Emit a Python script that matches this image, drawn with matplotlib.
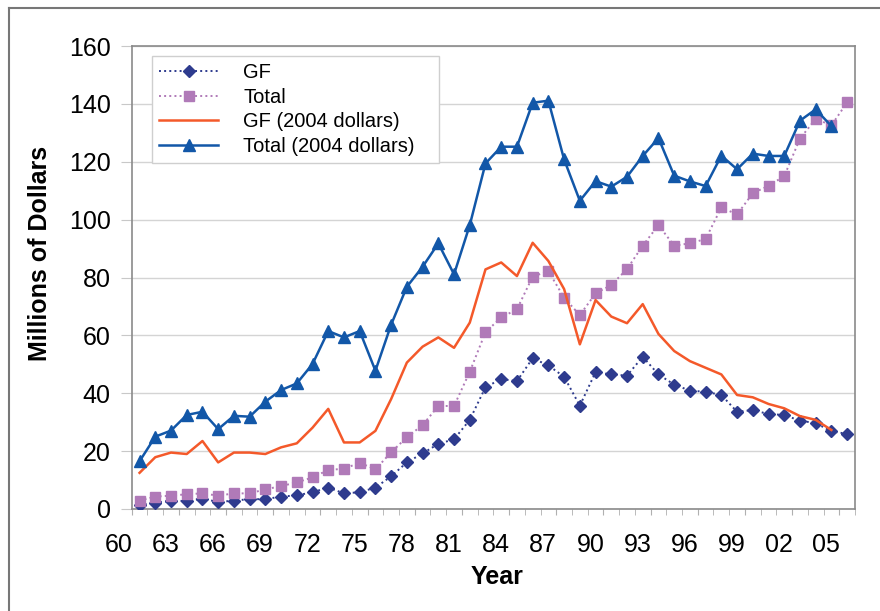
import matplotlib
matplotlib.use('Agg')
import matplotlib.pyplot as plt
from matplotlib.lines import Line2D
from matplotlib.ticker import FixedLocator
from matplotlib.transforms import ScaledTranslation

plt.rcParams['font.family'] = ['Liberation Sans', 'DejaVu Sans']

# data, years as 61 .. 106 (1961 .. 2006)
years = list(range(61, 107))
gf = [1.4, 2.2, 2.8, 2.8, 3.6, 2.4, 2.9, 3.4, 3.4, 4.3,
      4.7, 5.8, 7.4, 5.4, 5.8, 7.4, 11.3, 16.1, 19.2, 22.5,
      24.1, 30.8, 42.1, 44.9, 44.2, 52.1, 49.6, 45.7, 35.7, 47.3,
      46.5, 46.1, 52.6, 46.5, 43.0, 40.9, 40.5, 39.4, 33.6, 34.2,
      32.8, 32.5, 30.5, 29.7, 26.8, 26.0]
total = [2.9, 4.3, 4.6, 5.1, 5.4, 4.6, 5.4, 5.4, 6.8, 7.9,
         9.2, 10.9, 13.5, 13.9, 16.0, 13.7, 19.6, 24.8, 29.0, 35.6,
         35.6, 47.4, 61.1, 66.2, 69.0, 80.3, 82.2, 73.0, 67.0, 74.5,
         77.4, 82.9, 91.0, 98.1, 91.0, 91.8, 93.3, 104.2, 101.8, 109.1,
         111.7, 115.0, 128.0, 134.8, 132.6, 140.5]
gf_2004 = [12.5, 17.9, 19.5, 19.0, 23.5, 16.1, 19.5, 19.5, 19.0, 21.3,
           22.7, 28.1, 34.6, 23.0, 23.0, 27.0, 38.0, 50.6, 56.1, 59.3,
           55.7, 64.4, 82.8, 85.2, 80.5, 92.0, 85.7, 76.0, 56.9, 72.2,
           66.5, 64.2, 70.8, 60.5, 54.6, 51.1, 48.8, 46.5, 39.4, 38.6,
           36.3, 34.8, 32.1, 30.8, 27.3]
total_2004 = [16.5, 25.0, 27.1, 32.5, 33.6, 27.6, 32.2, 31.9, 37.1, 41.1,
              43.4, 50.1, 61.5, 59.3, 61.5, 47.8, 63.7, 76.8, 83.7, 91.8,
              81.1, 98.1, 119.4, 125.2, 125.2, 140.4, 141.1, 120.8, 106.5, 113.3,
              111.4, 114.8, 122.0, 128.2, 115.2, 113.2, 111.6, 122.1, 117.4, 122.8,
              122.0, 122.0, 134.2, 138.1, 132.3]
label_years = list(range(60, 106, 3))
labels = ['%02d' % (y % 100) for y in label_years]

W, H = 880, 611
fig = plt.figure(figsize=(W / 100, H / 100), dpi=100)
ax = fig.add_axes([131.7 / W, 1 - 509 / H, (855 - 131.7) / W, (509 - 46) / H])

ax.plot(years, gf, linestyle=':', color='#2E3B8E', lw=1.4, marker='D', markersize=6.5,
        label='GF', zorder=3)
ax.plot(years, total, linestyle=':', color='#B07AB8', lw=1.4, marker='s', markersize=6.5,
        label='Total', zorder=3)
ax.plot(years[:len(gf_2004)], gf_2004, linestyle='-', color='#F4592A', lw=1.8,
        label='GF (2004 dollars)', zorder=4)
ax.plot(years[:len(total_2004)], total_2004, linestyle='-', color='#1257A8', lw=1.8,
        marker='^', markersize=8, label='Total (2004 dollars)', zorder=5)

# ticks on the category edge, labels shifted left like the original
ax.set_xticks([y + 0.5 for y in label_years])
ax.set_xticklabels(labels)
ax.xaxis.set_minor_locator(FixedLocator([y + 0.5 for y in range(60, 107)]))
ax.set_xlim(60.5, 106.5)
ax.set_ylim(0, 160)
ax.set_yticks(range(0, 161, 20))
ax.grid(axis='y', color='#d4d4d4', lw=1)
ax.set_axisbelow(True)

ax.tick_params(axis='x', which='major', length=4, color='#b0b0b0', pad=13, labelsize=18)
ax.tick_params(axis='x', which='minor', length=4, color='#b0b0b0', direction='out')
ax.tick_params(axis='y', length=8, color='#c8c8c8', pad=7, labelsize=18)
shift = ScaledTranslation(-13.1 / 100, 0, fig.dpi_scale_trans)
for lab in ax.get_xticklabels():
    lab.set_transform(lab.get_transform() + shift)

for s in ax.spines.values():
    s.set_color('#8a8a8a')
    s.set_linewidth(1.2)

fig.text(497 / W, 1 - 577 / H, 'Year', fontsize=18, fontweight='bold', ha='center', va='center')
fig.text(40 / W, 1 - 253.5 / H, 'Millions of Dollars', fontsize=18, fontweight='bold',
         rotation=90, ha='center', va='center')

leg = ax.legend(loc='upper left',
                bbox_to_anchor=(152 / W, 1 - 167 / H, (439 - 152) / W, (167 - 56) / H),
                bbox_transform=fig.transFigure, mode='expand', borderaxespad=0,
                fontsize=14.5, handlelength=2.93, handletextpad=1.24, labelspacing=0.28,
                borderpad=0.35, fancybox=False, framealpha=1, edgecolor='#cfcfcf')
leg.get_frame().set_linewidth(1)

# outer frame
fig.add_artist(Line2D([9 / W, 9 / W], [0, 1 - 8 / H], transform=fig.transFigure,
                      color='#777777', lw=1.5))
fig.add_artist(Line2D([9 / W, 1], [1 - 8 / H, 1 - 8 / H], transform=fig.transFigure,
                      color='#777777', lw=1.5))

fig.savefig('out.png', dpi=100)
